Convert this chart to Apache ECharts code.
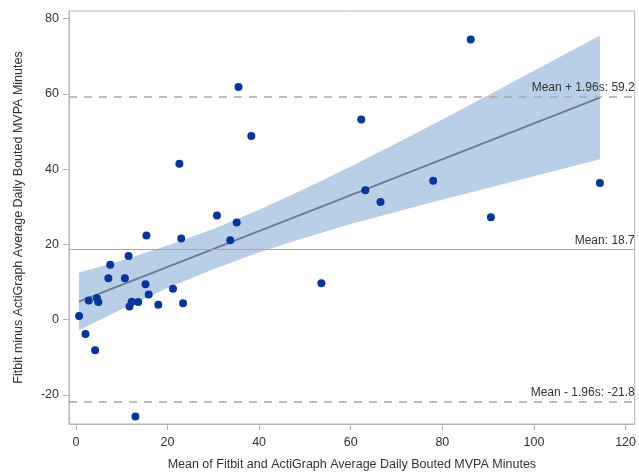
<!DOCTYPE html>
<html><head><meta charset="utf-8">
<script src="https://cdn.jsdelivr.net/npm/echarts@6/dist/echarts.min.js"></script>
<style>html,body{margin:0;padding:0;background:#fff}#c{width:639px;height:476px}</style>
</head><body><div id="c"></div>
<script>
// Bland-Altman data: mean of the two devices vs difference (Fitbit - ActiGraph)
const meanX = [15.4, 23.0, 11.5, 7.5, 7.1, 10.7, 15.2, 21.2, 15.9, 2.8, 4.6, 4.9, 12.2, 13.6, 11.7, 18.0, 23.4, 0.7, 2.1, 4.2, 13.0, 22.6, 38.3, 30.8, 35.1, 33.7, 35.5, 86.2, 62.3, 63.2, 66.5, 78.0, 90.6, 114.4, 53.6];
const diffY = [22.4, 21.6, 16.9, 14.6, 11.0, 11.0, 9.4, 8.2, 6.7, 5.1, 5.7, 4.7, 4.8, 4.7, 3.5, 4.0, 4.4, 1.0, -3.8, -8.1, -25.7, 41.4, 48.8, 27.7, 25.8, 21.1, 61.8, 74.4, 53.2, 34.4, 31.3, 36.9, 27.2, 36.3, 9.7];
// regression line end points
const fitX = [0.65, 114.4];
const fitY = [4.8, 59.0];
// confidence band read at several x positions
const bandX = [0.65, 10, 20, 30, 40, 50, 60, 70, 80, 90, 100, 114.4];
const bandLower = [-2.8, 2.8, 8.4, 13.4, 17.9, 21.8, 25.4, 28.7, 31.9, 35.0, 38.1, 42.6];
const bandUpper = [12.5, 15.7, 19.7, 24.1, 29.2, 34.8, 40.7, 46.9, 53.2, 59.6, 66.1, 75.5];
// limits of agreement
const limitValues = [59.2, 18.7, -21.8];
const limitLabels = ['Mean + 1.96s: 59.2', 'Mean: 18.7', 'Mean - 1.96s: -21.8'];
const xTicks = [0, 20, 40, 60, 80, 100, 120];
const yTicks = [-20, 0, 20, 40, 60, 80];

const chart = echarts.init(document.getElementById('c'), null, {renderer: 'canvas'});
const FONT = 'Liberation Sans, Arial, sans-serif';
const axisCol = '#b4b4b4';

chart.setOption({
  animation: false,
  backgroundColor: '#fff',
  grid: {left: 69, right: 2, top: 11, bottom: 48, show: true, borderColor: axisCol, borderWidth: 1},
  xAxis: {
    type: 'value', min: -1.5, max: 122,
    name: 'Mean of Fitbit and ActiGraph Average Daily Bouted MVPA Minutes',
    nameLocation: 'middle', nameGap: 34,
    nameTextStyle: {fontFamily: FONT, fontSize: 12.5, color: '#333'},
    axisLine: {show: true, onZero: false, lineStyle: {color: axisCol}},
    axisTick: {show: true, length: 6, lineStyle: {color: axisCol}, customValues: xTicks},
    axisLabel: {fontFamily: FONT, fontSize: 12.5, color: '#333', margin: 12, customValues: xTicks},
    splitLine: {show: false}
  },
  yAxis: {
    type: 'value', min: -27.7, max: 82,
    name: 'Fitbit minus ActiGraph Average Daily Bouted MVPA Minutes',
    nameLocation: 'middle', nameGap: 44,
    nameTextStyle: {fontFamily: FONT, fontSize: 12.5, color: '#333'},
    axisLine: {show: true, onZero: false, lineStyle: {color: axisCol}},
    axisTick: {show: true, length: 6, lineStyle: {color: axisCol}, customValues: yTicks},
    axisLabel: {fontFamily: FONT, fontSize: 12.5, color: '#333', margin: 10, customValues: yTicks},
    splitLine: {show: false}
  },
  series: [
    {
      type: 'custom', z: 1, silent: true,
      data: bandX.map((x, i) => [x, bandLower[i], bandUpper[i]]),
      encode: {x: 0, y: [1, 2]},
      clip: true,
      renderItem: function (params, api) {
        if (params.dataIndex !== 0) return null;
        const pts = [];
        for (let i = 0; i < bandX.length; i++) pts.push(api.coord([bandX[i], bandUpper[i]]));
        for (let i = bandX.length - 1; i >= 0; i--) pts.push(api.coord([bandX[i], bandLower[i]]));
        return {type: 'polygon', shape: {points: pts}, style: {fill: '#b9cfe8'}};
      }
    },
    {
      type: 'line', z: 2, silent: true, symbol: 'none',
      data: fitX.map((x, i) => [x, fitY[i]]),
      lineStyle: {color: '#6a7b95', width: 1.8}
    },
    {
      type: 'scatter', z: 4,
      data: meanX.map((x, i) => [x, diffY[i]]),
      symbol: 'circle', symbolSize: 8,
      itemStyle: {color: '#07369b', opacity: 1},
      markLine: {
        silent: true, symbol: 'none', z: 3,
        data: limitValues.map((v, i) => ({
          yAxis: v,
          lineStyle: {color: '#a9a9a9', width: i === 1 ? 1.2 : 1.6, type: i === 1 ? 'solid' : [8, 7]},
          label: {show: true, formatter: limitLabels[i], position: 'insideEndTop', distance: [0, 3],
                  fontFamily: FONT, fontSize: 12, color: '#333'}
        }))
      }
    }
  ]
});
</script>
</body></html>
